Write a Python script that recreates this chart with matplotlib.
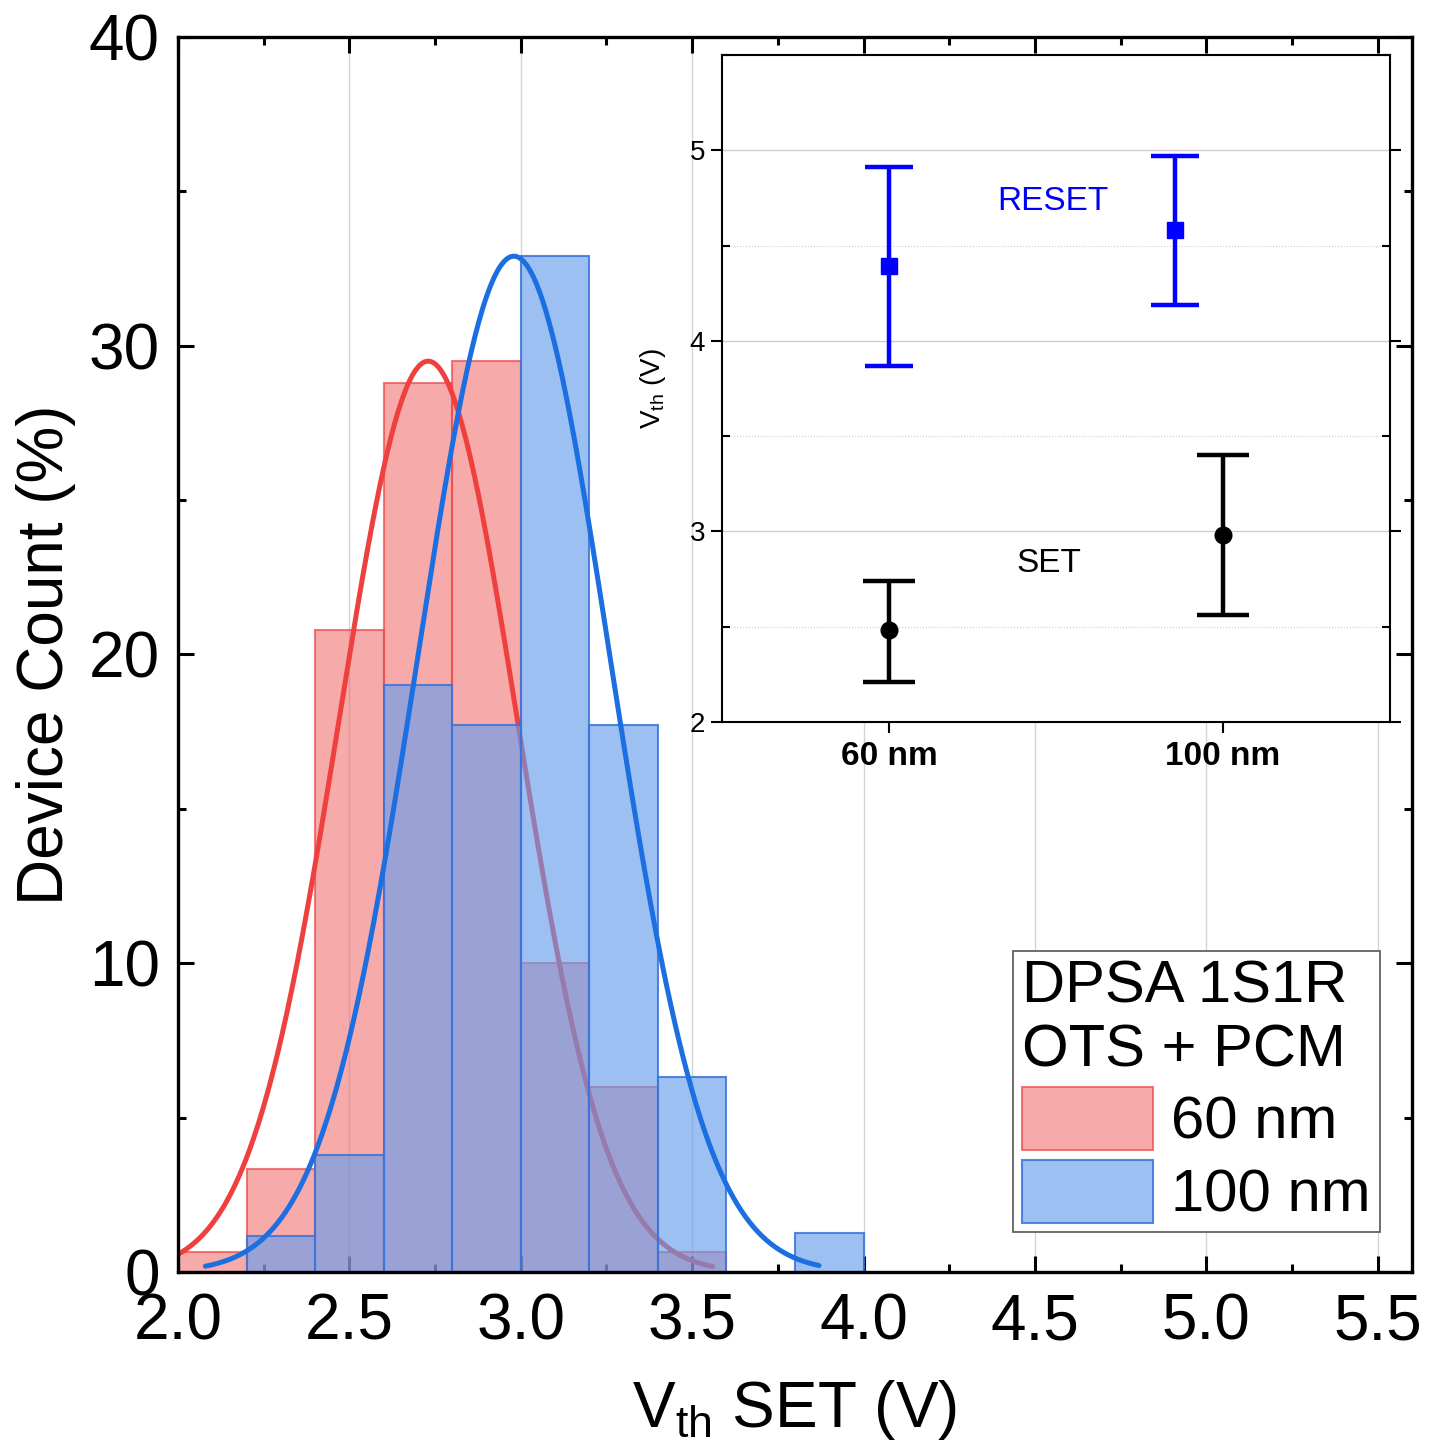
import numpy as np
import matplotlib
matplotlib.use('Agg')
import matplotlib.pyplot as plt
from matplotlib.ticker import MultipleLocator, FixedLocator, FormatStrFormatter

plt.rcParams['font.family'] = ['Liberation Sans', 'DejaVu Sans']
plt.rcParams['mathtext.fontset'] = 'custom'
plt.rcParams['mathtext.rm'] = 'Liberation Sans'

# histogram data (bin left edges, % of devices)
bin_left = [2.0, 2.2, 2.4, 2.6, 2.8, 3.0, 3.2, 3.4, 3.6, 3.8]
bin_width = 0.2
count_60 = [0.65, 3.35, 20.8, 28.8, 29.5, 10.0, 6.0, 0.65, 0.0, 0.0]
count_100 = [0.0, 1.15, 3.8, 19.0, 17.7, 32.9, 17.7, 6.3, 0.0, 1.25]

# gaussian fit parameters (amplitude, mean, sigma, x-range)
fit_60 = dict(amp=29.5, mu=2.73, sigma=0.26, x0=2.0, x1=3.56)
fit_100 = dict(amp=32.9, mu=2.98, sigma=0.28, x0=2.08, x1=3.87)

# inset: threshold voltages
inset_labels = ['60 nm', '100 nm']
set_x = [1.0, 2.0]
set_mean = [2.48, 2.98]
set_low = [2.21, 2.56]
set_high = [2.74, 3.40]
reset_x = [1.0, 1.855]
reset_mean = [4.39, 4.58]
reset_low = [3.87, 4.19]
reset_high = [4.91, 4.97]

red_fill = (0.937, 0.341, 0.341, 0.5)
red_edge = (0.93, 0.30, 0.30, 0.75)
blue_fill = (0.40, 0.616, 0.925, 0.64)
blue_edge = (0.22, 0.45, 0.86, 0.85)
red_line = '#ef4040'
blue_line = '#1c6fe0'

fig = plt.figure(figsize=(14.42, 14.43), dpi=100)
ax = fig.add_axes([0.1234, 0.1185, 0.8558, 0.8559])

def gauss(p):
    x = np.linspace(p['x0'], p['x1'], 300)
    return x, p['amp'] * np.exp(-(x - p['mu'])**2 / (2 * p['sigma']**2))

ax.bar(bin_left, count_60, width=bin_width, align='edge', color=red_fill,
       edgecolor=red_edge, linewidth=1.5, label='60 nm', zorder=2)
xr, yr = gauss(fit_60)
ax.plot(xr, yr, color=red_line, lw=3.6, zorder=3, solid_capstyle='round')
ax.bar(bin_left, count_100, width=bin_width, align='edge', color=blue_fill,
       edgecolor=blue_edge, linewidth=1.5, label='100 nm', zorder=4)
xb, yb = gauss(fit_100)
ax.plot(xb, yb, color=blue_line, lw=3.6, zorder=5, solid_capstyle='round')

ax.set_xlim(2.0, 5.6)
ax.set_ylim(0, 40)
ax.xaxis.set_major_locator(MultipleLocator(0.5))
ax.xaxis.set_minor_locator(MultipleLocator(0.25))
ax.yaxis.set_major_locator(MultipleLocator(10))
ax.yaxis.set_minor_locator(MultipleLocator(5))
ax.xaxis.set_major_formatter(FormatStrFormatter('%.1f'))
ax.tick_params(which='both', direction='in', top=True, right=True, width=2.2)
ax.tick_params(which='major', length=11.5, labelsize=46)
ax.tick_params(axis='x', which='major', pad=15)
ax.tick_params(axis='y', which='major', pad=13)
ax.tick_params(which='minor', length=5.5)
ax.grid(axis='x', which='major', color='#d4d4d4', lw=1.0, zorder=0)
ax.set_axisbelow(True)
for s in ax.spines.values():
    s.set_linewidth(2.4)
    s.set_zorder(10)

ax.set_xlabel(r'$\mathregular{V_{th}}$ SET (V)', fontsize=46, labelpad=18)
ax.set_ylabel('Device Count (%)', fontsize=46, labelpad=9)

leg = ax.legend(title='DPSA 1S1R\nOTS + PCM', loc='lower right',
                bbox_to_anchor=(0.974, 0.032), borderaxespad=0,
                fontsize=43, title_fontsize=43, fancybox=False,
                handlelength=2.2, handleheight=1.25, handletextpad=0.3,
                labelspacing=0.15, borderpad=0.15, framealpha=1)
leg._legend_box.align = 'left'
leg.get_frame().set_edgecolor('#555555')
leg.get_frame().set_linewidth(1.2)
leg.set_zorder(20)

# inset
ins = fig.add_axes([0.5007, 0.4997, 0.4632, 0.4622])
ins.set_zorder(15)
ins.set_facecolor('white')
ins.errorbar(reset_x, reset_mean,
             yerr=[np.subtract(reset_mean, reset_low), np.subtract(reset_high, reset_mean)],
             fmt='s', color='#0000ff', ms=11, elinewidth=3.2, capsize=17, capthick=3.2, zorder=5)
ins.errorbar(set_x, set_mean,
             yerr=[np.subtract(set_mean, set_low), np.subtract(set_high, set_mean)],
             fmt='o', color='black', ms=12, elinewidth=3.2, capsize=19, capthick=3.2, zorder=5)
ins.text(1.49, 4.73, 'RESET', color='#0000ff', fontsize=24, ha='center', va='center')
ins.text(1.48, 2.83, 'SET', color='black', fontsize=24, ha='center', va='center')

ins.set_xlim(0.5, 2.5)
ins.set_ylim(2, 5.5)
ins.xaxis.set_major_locator(FixedLocator(set_x))
ins.set_xticklabels(inset_labels, fontsize=24, fontweight='bold')
ins.yaxis.set_major_locator(MultipleLocator(1))
ins.yaxis.set_minor_locator(MultipleLocator(0.5))
ins.tick_params(axis='y', which='both', left=True, right=True, labelsize=20, width=1.5)
ins.tick_params(axis='y', which='major', direction='out', length=8, pad=4)
ins.tick_params(axis='y', which='minor', direction='in', length=6)
ins.tick_params(axis='x', which='major', direction='out', length=8, width=1.5, pad=6, top=False)
ins.grid(axis='y', which='major', color='#cccccc', lw=1.0)
ins.grid(axis='y', which='minor', color='#cccccc', lw=0.8, ls=':')
ins.set_axisbelow(True)
for s in ins.spines.values():
    s.set_linewidth(1.5)
ins.set_ylabel(r'$\mathregular{V_{th}}$ (V)', fontsize=20, labelpad=16)

fig.savefig('out.png', dpi=100)
